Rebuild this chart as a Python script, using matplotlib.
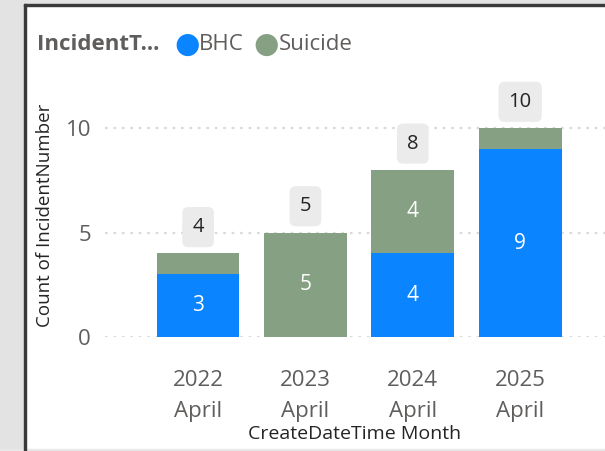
import matplotlib.pyplot as plt
from matplotlib.patches import Rectangle

months = ['2022\nApril', '2023\nApril', '2024\nApril', '2025\nApril']
bhc = [3, 0, 4, 9]
suicide = [1, 5, 4, 1]
totals = [b + s for b, s in zip(bhc, suicide)]

blue = '#0A84FF'
green = '#86A083'

plt.rcParams['font.family'] = ['Open Sans', 'DejaVu Sans']

fig = plt.figure(figsize=(6.05, 4.51), dpi=100)
W, H = 605, 451

# frame of the visual (grey strip + dark edges)
fig.patches.append(Rectangle((0, 0), 24 / W, 1, transform=fig.transFigure, color='#e3e3e3', zorder=0))
fig.patches.append(Rectangle((0, 1 - 4 / H), 1, 4 / H, transform=fig.transFigure, color='#e3e3e3', zorder=0))
fig.patches.append(Rectangle((0, 0), 1, 2 / H, transform=fig.transFigure, color='#e8e8e8', zorder=0))
fig.patches.append(Rectangle((24 / W, 0), 2 / W, 1 - 4 / H, transform=fig.transFigure, color='#3a3a3a', zorder=1))
fig.patches.append(Rectangle((24 / W, 1 - 6 / H), 1, 2 / H, transform=fig.transFigure, color='#3a3a3a', zorder=1))

ax = fig.add_axes([105 / W, (H - 337) / H, 1 - 105 / W, (337 - 76) / H])
x = range(len(months))
ax.bar(x, bhc, width=0.77, color=blue, zorder=2)
ax.bar(x, suicide, width=0.77, bottom=bhc, color=green, zorder=2)

for i in x:
    if bhc[i] > 1:
        ax.text(i, bhc[i] / 2, str(bhc[i]), ha='center', va='center', color='white', fontsize=15, zorder=3)
    if suicide[i] > 1:
        ax.text(i, bhc[i] + suicide[i] / 2, str(suicide[i]), ha='center', va='center', color='white', fontsize=15, zorder=3)
    ax.annotate(str(totals[i]), (i, totals[i]), xytext=(0, 19), textcoords='offset points',
                ha='center', va='center', fontsize=14.5, color='#252423', zorder=4, annotation_clip=False,
                bbox=dict(boxstyle='round,pad=0.5,rounding_size=0.3', fc='#ebebeb', ec='none'))

ax.set_xlim(-0.867, 3.79)
ax.set_ylim(0, 12.5)
ax.set_yticks([0, 5, 10])
ax.set_xticks(list(x))
ax.set_xticklabels(months, fontsize=16, color='#605E5C', linespacing=1.6)
ax.tick_params(axis='y', labelsize=16, labelcolor='#605E5C', length=0, pad=10)
ax.tick_params(axis='x', length=0, pad=24)
ax.grid(axis='y', color='#dadada', linestyle=(0, (1.2, 2.6)), linewidth=1.6, zorder=1)
for s in ax.spines.values():
    s.set_visible(False)

ax.set_xlabel('CreateDateTime Month', fontsize=14, color='#252423', labelpad=2)
ax.set_ylabel('Count of IncidentNumber', fontsize=13.5, color='#252423')
ax.yaxis.set_label_coords(-0.102, 0.465)

# legend row
fig.text(37 / W, 1 - 45 / H, 'IncidentT...', fontsize=16, fontweight='bold', color='#605E5C', va='center')
fig.text(174 / W, 1 - 45 / H, '\u25CF', fontsize=21, color=blue, va='center')
fig.text(199 / W, 1 - 45 / H, 'BHC', fontsize=16, color='#605E5C', va='center')
fig.text(253 / W, 1 - 45 / H, '\u25CF', fontsize=21, color=green, va='center')
fig.text(279 / W, 1 - 45 / H, 'Suicide', fontsize=16, color='#605E5C', va='center')

fig.savefig('out.png', dpi=100)
